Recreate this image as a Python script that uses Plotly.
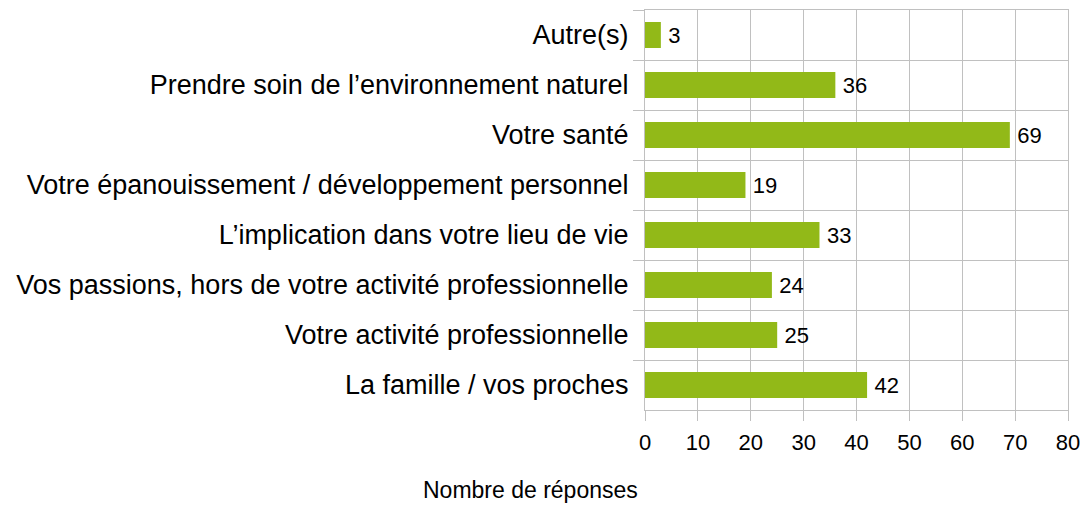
import plotly.graph_objects as go

categories = [
    "Autre(s)",
    "Prendre soin de l’environnement naturel",
    "Votre santé",
    "Votre épanouissement / développement personnel",
    "L’implication dans votre lieu de vie",
    "Vos passions, hors de votre activité professionnelle",
    "Votre activité professionnelle",
    "La famille / vos proches",
]
values = [3, 36, 69, 19, 33, 24, 25, 42]
x_ticks = [0, 10, 20, 30, 40, 50, 60, 70, 80]

FONT = "Liberation Sans, Arial, sans-serif"
W, H = 1084, 505
L, R, T, B = 645, 16, 10, 95

fig = go.Figure(go.Bar(
    x=values, y=categories, orientation="h",
    marker=dict(color="#92B918", line=dict(width=0)),
    text=["\u2009" + str(v) for v in values], textposition="outside",
    textfont=dict(color="#000000", size=22, family=FONT),
    cliponaxis=False, width=0.52, hoverinfo="skip",
))
fig.update_layout(
    width=W, height=H,
    margin=dict(l=L, r=R, t=T, b=B),
    paper_bgcolor="white", plot_bgcolor="white",
    font=dict(family=FONT, size=22, color="#000000"),
    showlegend=False,
    xaxis=dict(range=[0, 80], tickvals=x_ticks, showgrid=True, gridcolor="#c0c0c0",
               gridwidth=1, zeroline=False, showline=True, linecolor="#c0c0c0",
               ticks="outside", ticklen=10, tickcolor="#c0c0c0", mirror=True,
               tickfont=dict(size=22), automargin=False, ticklabelstandoff=3),
    yaxis=dict(type="category", autorange="reversed", tickson="boundaries",
               showgrid=True, gridcolor="#c0c0c0", showline=True, linecolor="#c0c0c0",
               ticks="outside", ticklen=11, tickcolor="#c0c0c0", mirror=True,
               tickfont=dict(size=27), automargin=False, ticklabelstandoff=10),
)
pw = W - L - R
ph = H - T - B
fig.add_annotation(text="Nombre de réponses", x=(530 - L) / pw, y=(H - B - 490) / ph,
                   xref="paper", yref="paper", xanchor="center", yanchor="middle",
                   showarrow=False, font=dict(size=23))
fig.write_html("out.html", config={"displayModeBar": False},
               post_script="document.body.style.margin='0';document.body.style.overflow='hidden';")
